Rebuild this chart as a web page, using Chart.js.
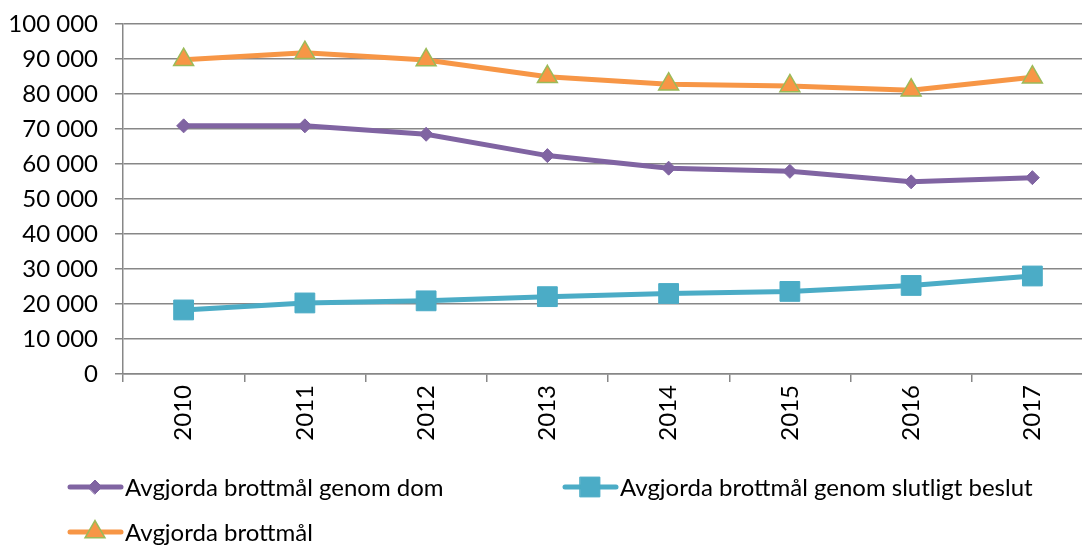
<!DOCTYPE html>
<html lang="sv">
<head>
    <meta charset="UTF-8">
    <title>Avgjorda brottmål 2010–2017</title>
    <script src="https://cdn.jsdelivr.net/npm/chart.js"></script>
    <style>
        html, body { margin: 0; padding: 0; background: #fff; overflow: hidden; }
        .chart-wrap { width: 1108px; height: 545px; }
    </style>
</head>
<body>
    <div class="chart-wrap">
        <canvas id="caseChart" width="1108" height="545"></canvas>
    </div>

    <script>
        const years = ['2010', '2011', '2012', '2013', '2014', '2015', '2016', '2017'];
        const domValues = [70900, 70900, 68500, 62400, 58800, 57900, 54900, 56100];
        const beslutValues = [18300, 20300, 20900, 22100, 23000, 23600, 25300, 28000];
        const totalValues = [89800, 91800, 89700, 84900, 82800, 82300, 81100, 84800];
        const seriesNames = [
            'Avgjorda brottmål genom dom',
            'Avgjorda brottmål genom slutligt beslut',
            'Avgjorda brottmål'
        ];

        const FONT = 'Lato, "DejaVu Sans", sans-serif';
        const FONT_SIZE = 24;
        const GRID = '#878787';

        function formatThousands(v) {
            return String(v).replace(/\B(?=(\d{3})+(?!\d))/g, ' ');
        }

        // legend drawn under the axis labels, line + marker like the original
        const legendSpots = [
            { x: 70, y: 487 },
            { x: 565, y: 487 },
            { x: 70, y: 532 }
        ];

        const legendPlugin = {
            id: 'lineLegend',
            afterDraw(chart) {
                const ctx = chart.ctx;
                chart.data.datasets.forEach((ds, i) => {
                    const spot = legendSpots[i];
                    ctx.save();
                    ctx.strokeStyle = ds.borderColor;
                    ctx.lineWidth = 5;
                    ctx.lineCap = 'round';
                    ctx.beginPath();
                    ctx.moveTo(spot.x, spot.y);
                    ctx.lineTo(spot.x + 51, spot.y);
                    ctx.stroke();
                    ctx.fillStyle = ds.pointBackgroundColor;
                    ctx.strokeStyle = ds.pointBorderColor;
                    ctx.lineWidth = ds.pointBorderWidth;
                    Chart.helpers.drawPoint(ctx, {
                        pointStyle: ds.pointStyle,
                        radius: ds.pointRadius,
                        rotation: 0,
                        borderWidth: ds.pointBorderWidth
                    }, spot.x + 25, spot.y);
                    ctx.fillStyle = '#000';
                    ctx.font = FONT_SIZE + 'px ' + FONT;
                    ctx.textBaseline = 'middle';
                    ctx.textAlign = 'left';
                    ctx.fillText(ds.label, spot.x + 55, spot.y + 1);
                    ctx.restore();
                });
            }
        };

        const ctx = document.getElementById('caseChart').getContext('2d');
        new Chart(ctx, {
            type: 'line',
            data: {
                labels: years,
                datasets: [{
                    label: seriesNames[0],
                    data: domValues,
                    borderColor: '#8064A2',
                    borderWidth: 5,
                    pointStyle: 'rectRot',
                    pointRadius: 7,
                    pointBackgroundColor: '#8064A2',
                    pointBorderColor: '#8064A2',
                    pointBorderWidth: 1,
                    tension: 0
                }, {
                    label: seriesNames[1],
                    data: beslutValues,
                    borderColor: '#4BACC6',
                    borderWidth: 5,
                    pointStyle: 'rect',
                    pointRadius: 14,
                    pointBackgroundColor: '#4BACC6',
                    pointBorderColor: '#4BACC6',
                    pointBorderWidth: 1,
                    tension: 0
                }, {
                    label: seriesNames[2],
                    data: totalValues,
                    borderColor: '#F79646',
                    borderWidth: 5,
                    pointStyle: 'triangle',
                    pointRadius: 11.5,
                    pointBackgroundColor: '#F79646',
                    pointBorderColor: '#9BBB59',
                    pointBorderWidth: 1.5,
                    tension: 0
                }]
            },
            options: {
                responsive: false,
                animation: false,
                layout: { padding: { top: 24, right: 8, left: 0, bottom: 0 } },
                plugins: {
                    legend: { display: false },
                    tooltip: { enabled: false }
                },
                scales: {
                    x: {
                        offset: true,
                        afterFit: (scale) => {
                            scale.height = 171;
                            scale.paddingLeft = 0;
                            scale.paddingRight = 0;
                        },
                        grid: {
                            offset: true,
                            drawOnChartArea: false,
                            drawTicks: true,
                            tickLength: 8,
                            color: GRID,
                            lineWidth: 1.5
                        },
                        border: { color: GRID, width: 1.5 },
                        ticks: {
                            minRotation: 90,
                            maxRotation: 90,
                            padding: 3,
                            color: '#000',
                            font: { family: FONT, size: FONT_SIZE }
                        }
                    },
                    y: {
                        min: 0,
                        max: 100000,
                        afterFit: (scale) => {
                            scale.width = 123;
                            scale.paddingTop = 0;
                            scale.paddingBottom = 0;
                        },
                        grid: {
                            color: GRID,
                            lineWidth: 1.5,
                            tickLength: 8
                        },
                        border: { color: GRID, width: 1.5 },
                        ticks: {
                            stepSize: 10000,
                            padding: 17,
                            color: '#000',
                            font: { family: FONT, size: FONT_SIZE },
                            callback: (v) => formatThousands(v)
                        }
                    }
                }
            },
            plugins: [legendPlugin]
        });
    </script>
</body>
</html>
